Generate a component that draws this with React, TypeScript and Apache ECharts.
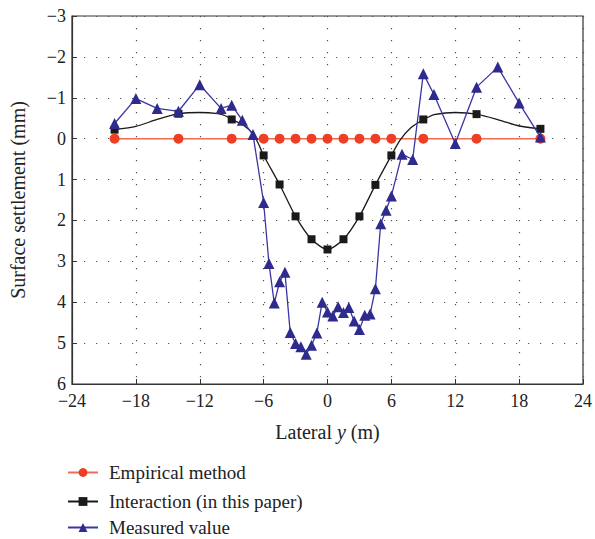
import React, { useEffect, useRef } from "react";
import * as echarts from "echarts";

const xTicks = [-24, -18, -12, -6, 0, 6, 12, 18, 24];
const yTicks = [-3, -2, -1, 0, 1, 2, 3, 4, 5, 6];

const empiricalX = [-20, -14, -9, -6, -4.5, -3, -1.5, 0, 1.5, 3, 4.5, 6, 9, 14, 20];
const empiricalY = [0, 0, 0, 0, 0, 0, 0, 0, 0, 0, 0, 0, 0, 0, 0];

const interactionX = [-20, -14, -9, -6, -4.5, -3, -1.5, 0, 1.5, 3, 4.5, 6, 9, 14, 20];
const interactionY = [-0.22, -0.61, -0.47, 0.41, 1.12, 1.9, 2.46, 2.71, 2.46, 1.9, 1.13, 0.41, -0.47, -0.6, -0.24];
// points of the drawn curve between markers
const interactionCurveX = [-18, -16, -12, -10.3, -9.6, -7.9, -7.0, -6.5, 6.8, 7.8, 9.5, 10, 12, 16.2, 18];
const interactionCurveY = [-0.3, -0.47, -0.64, -0.61, -0.56, -0.33, -0.12, 0.12, 0.04, -0.26, -0.53, -0.59, -0.64, -0.45, -0.31];

const measuredX = [-20, -18, -16, -14, -12, -10, -9, -8, -7, -6, -5.5, -5, -4.5, -4, -3.5, -3, -2.5, -2, -1.5, -1, -0.5, 0, 0.5, 1, 1.5, 2, 2.5, 3, 3.5, 4, 4.5, 5, 5.5, 6, 7, 8, 9, 10, 12, 14, 16, 18, 20];
const measuredY = [-0.37, -0.98, -0.74, -0.67, -1.32, -0.74, -0.82, -0.45, -0.1, 1.56, 3.05, 4.02, 3.5, 3.27, 4.74, 5.01, 5.09, 5.27, 5.05, 4.75, 4.0, 4.24, 4.34, 4.11, 4.25, 4.13, 4.46, 4.67, 4.32, 4.29, 3.67, 2.08, 1.75, 1.4, 0.38, 0.51, -1.59, -1.08, 0.12, -1.26, -1.75, -0.87, -0.04];

const legendNames = ["Empirical method", "Interaction (in this paper)", "Measured value"];

const FONT = "'Liberation Serif', 'DejaVu Serif', serif";
const fmt = (v: number) => (v < 0 ? "\u2212" + Math.abs(v) : String(v));

export default function App() {
  const ref = useRef<HTMLDivElement>(null);
  useEffect(() => {
    if (!ref.current) return;
    const chart = echarts.init(ref.current, null, { renderer: "svg" });

    const interactionData: any[] = [];
    interactionX.forEach((x, i) => interactionData.push({ value: [x, interactionY[i]] }));
    interactionCurveX.forEach((x, i) =>
      interactionData.push({ value: [x, interactionCurveY[i]], symbol: "none" })
    );
    interactionData.sort((a, b) => a.value[0] - b.value[0]);

    const splitLine = {
      show: true,
      lineStyle: { color: "#555", width: 1.2, type: [1.2, 10.8] as any },
    };

    const legendTops = [458, 487, 513];

    chart.setOption({
      animation: false,
      textStyle: { fontFamily: FONT },
      grid: {
        left: 69,
        right: 11,
        top: 16,
        bottom: 155,
        show: true,
        borderColor: "#333",
        borderWidth: 1.2,
      },
      legend: legendNames.map((n, i) => ({
        orient: "vertical",
        left: 62,
        top: legendTops[i],
        itemWidth: 30,
        itemHeight: 11,
        data: [n],
        textStyle: { fontFamily: FONT, fontSize: 19, color: "#222", padding: [0, 0, 0, 6] },
      })),
      xAxis: {
        type: "value",
        min: xTicks[0],
        max: xTicks[xTicks.length - 1],
        interval: 6,
        name: "{a|Lateral }{i|y}{a| (m)}",
        nameLocation: "middle",
        nameGap: 38,
        nameTextStyle: {
          rich: {
            a: { fontFamily: FONT, fontSize: 20, color: "#222" },
            i: { fontFamily: FONT, fontSize: 20, color: "#222", fontStyle: "italic" },
          },
        },
        axisLine: { show: true, onZero: false, lineStyle: { color: "#333", width: 1.2 } },
        axisTick: { show: true, inside: true, length: 5, lineStyle: { color: "#333" } },
        axisLabel: {
          fontFamily: FONT,
          fontSize: 18,
          lineHeight: 14,
          color: "#222",
          margin: 10,
          formatter: fmt,
        },
        splitLine,
      },
      yAxis: {
        type: "value",
        inverse: true,
        min: yTicks[0],
        max: yTicks[yTicks.length - 1],
        interval: 1,
        name: "Surface settlement (mm)",
        nameLocation: "middle",
        nameGap: 44,
        nameRotate: 90,
        nameTextStyle: { fontFamily: FONT, fontSize: 20, color: "#222" },
        axisLine: { show: true, onZero: false, lineStyle: { color: "#333", width: 1.2 } },
        axisTick: { show: true, inside: true, length: 5, lineStyle: { color: "#333" } },
        axisLabel: {
          fontFamily: FONT,
          fontSize: 18,
          lineHeight: 14,
          color: "#222",
          margin: 6,
          formatter: fmt,
        },
        splitLine,
      },
      series: [
        {
          name: legendNames[0],
          type: "line",
          data: empiricalX.map((x, i) => [x, empiricalY[i]]),
          symbol: "circle",
          symbolSize: 10,
          itemStyle: { color: "#EE3F24" },
          lineStyle: { color: "#F26B57", width: 1.5 },
          z: 2,
        },
        {
          name: legendNames[1],
          type: "line",
          data: interactionData,
          symbol: "rect",
          symbolSize: 8,
          smooth: 0.25,
          itemStyle: { color: "#1a1a1a" },
          lineStyle: { color: "#1a1a1a", width: 1.3 },
          z: 3,
        },
        {
          name: legendNames[2],
          type: "line",
          data: measuredX.map((x, i) => [x, measuredY[i]]),
          symbol: "triangle",
          symbolSize: 11,
          itemStyle: { color: "#2E2A8E" },
          lineStyle: { color: "#3A36A0", width: 1.3 },
          z: 4,
        },
      ],
    });
    return () => chart.dispose();
  }, []);
  return (
    <div
      ref={ref}
      style={{ position: "fixed", left: 0, top: 0, width: 595, height: 539, background: "#fff" }}
    />
  );
}
